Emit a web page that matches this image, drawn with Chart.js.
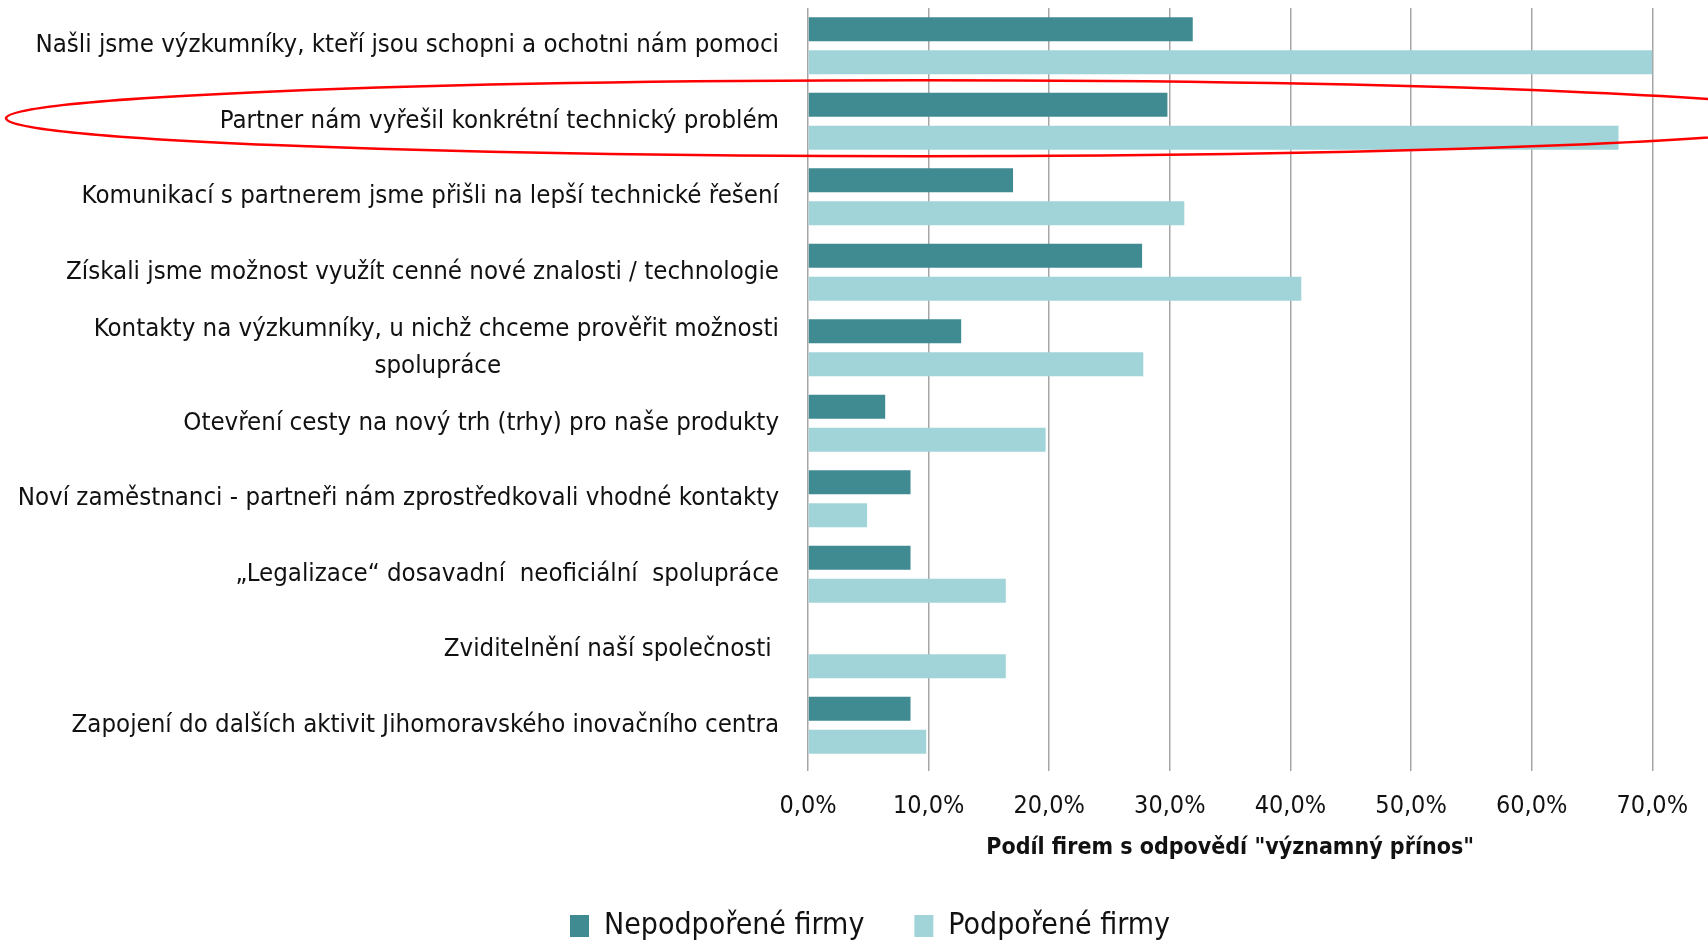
<!DOCTYPE html>
<html>
<head>
  <meta charset="UTF-8">
  <title>Podíl firem s odpovědí "významný přínos"</title>
  <script src="https://cdn.jsdelivr.net/npm/chart.js"></script>
  <style>
    body {
      margin: 0;
      background-color: #ffffff;
    }
    canvas {
      display: block;
    }
  </style>
</head>
<body>

  <canvas id="barChart" width="1708" height="944"></canvas>

  <script>
    const categories = [
      'Našli jsme výzkumníky, kteří jsou schopni a ochotni nám pomoci',
      'Partner nám vyřešil konkrétní technický problém',
      'Komunikací s partnerem jsme přišli na lepší technické řešení',
      'Získali jsme možnost využít cenné nové znalosti / technologie',
      ['Kontakty na výzkumníky, u nichž chceme prověřit možnosti', 'spolupráce'],
      'Otevření cesty na nový trh (trhy) pro naše produkty',
      'Noví zaměstnanci - partneři nám zprostředkovali vhodné kontakty',
      '„Legalizace“ dosavadní  neoficiální  spolupráce',
      'Zviditelnění naší společnosti ',
      'Zapojení do dalších aktivit Jihomoravského inovačního centra'
    ];
    const nepodporene = [31.9, 29.8, 17.0, 27.7, 12.7, 6.4, 8.5, 8.5, 0, 8.5];
    const podporene = [70.0, 67.2, 31.2, 40.9, 27.8, 19.7, 4.9, 16.4, 16.4, 9.8];
    const xTickLabels = ['0,0%', '10,0%', '20,0%', '30,0%', '40,0%', '50,0%', '60,0%', '70,0%'];

    const FONT = '"Liberation Sans Narrow", "Arial Narrow", "DejaVu Sans Condensed", sans-serif';
    const catFont = { family: FONT, size: 25.6, lineHeight: 1.45 };

    // centre lines of a multi-line label by padding the shorter ones with spaces
    const measureCtx = document.createElement('canvas').getContext('2d');
    function centreLines(lines) {
      measureCtx.font = catFont.size + 'px ' + FONT;
      const widths = lines.map(l => measureCtx.measureText(l).width);
      const maxW = Math.max(...widths);
      const spaceW = measureCtx.measureText(' ').width;
      return lines.map((l, i) => l + ' '.repeat(Math.round((maxW - widths[i]) / 2 / spaceW)));
    }

    const ellipsePlugin = {
      id: 'highlight',
      afterDraw(chart) {
        const c = chart.ctx;
        const cy = chart.scales.y.getPixelForValue(1) - 3;
        c.save();
        c.strokeStyle = '#ff0000';
        c.lineWidth = 2.5;
        c.beginPath();
        c.ellipse(920, cy, 914, 38, 0, 0, Math.PI * 2);
        c.stroke();
        c.restore();
      }
    };

    const ctx = document.getElementById('barChart').getContext('2d');

    const chart = new Chart(ctx, {
      type: 'bar',
      data: {
        labels: categories,
        datasets: [{
          label: 'Nepodpořené firmy',
          data: nepodporene,
          backgroundColor: '#3f8b91',
          borderWidth: 0,
          categoryPercentage: 0.874,
          barPercentage: 0.727
        }, {
          label: 'Podpořené firmy',
          data: podporene,
          backgroundColor: '#a1d4d8',
          borderWidth: 0,
          categoryPercentage: 0.874,
          barPercentage: 0.727
        }]
      },
      options: {
        indexAxis: 'y',
        responsive: false,
        animation: false,
        layout: {
          padding: { left: 15, right: -17, top: 8, bottom: -7 }
        },
        scales: {
          x: {
            min: 0,
            max: 70,
            ticks: {
              stepSize: 10,
              padding: 20,
              color: '#111',
              font: { family: FONT, size: 25 },
              callback: (v, i) => xTickLabels[i]
            },
            grid: {
              color: '#a6a6a6',
              lineWidth: 1.5,
              tickLength: 8
            },
            border: { display: false },
            title: {
              display: true,
              text: 'Podíl firem s odpovědí "významný přínos"',
              color: '#111',
              font: { family: FONT, size: 23, weight: 'bold' },
              padding: { top: 0, bottom: -1 }
            },
            afterFit: scale => { scale.height = 98; }
          },
          y: {
            grid: { display: false, drawTicks: false },
            border: { display: false },
            ticks: {
              autoSkip: false,
              padding: 29,
              color: '#111',
              font: catFont,
              callback: function (v) {
                const l = this.getLabelForValue(v);
                return Array.isArray(l) ? centreLines(l) : l;
              }
            },
            afterFit: scale => {
              scale.width = 793;
              scale.paddingTop = 0;
              scale.paddingBottom = 0;
            }
          },
          // empty right-hand spacer so the plot ends at the 70 % line
          yRight: {
            type: 'category',
            position: 'right',
            grid: { display: false, drawTicks: false },
            border: { display: false },
            ticks: { display: false },
            afterFit: scale => {
              scale.width = 65;
              scale.paddingTop = 0;
              scale.paddingBottom = 0;
            }
          }
        },
        plugins: {
          legend: {
            display: true,
            position: 'bottom',
            labels: {
              boxWidth: 19,
              boxHeight: 22,
              padding: 50,
              color: '#111',
              font: { family: FONT, size: 30 }
            }
          },
          tooltip: { enabled: false }
        }
      },
      plugins: [ellipsePlugin]
    });
  </script>

</body>
</html>
